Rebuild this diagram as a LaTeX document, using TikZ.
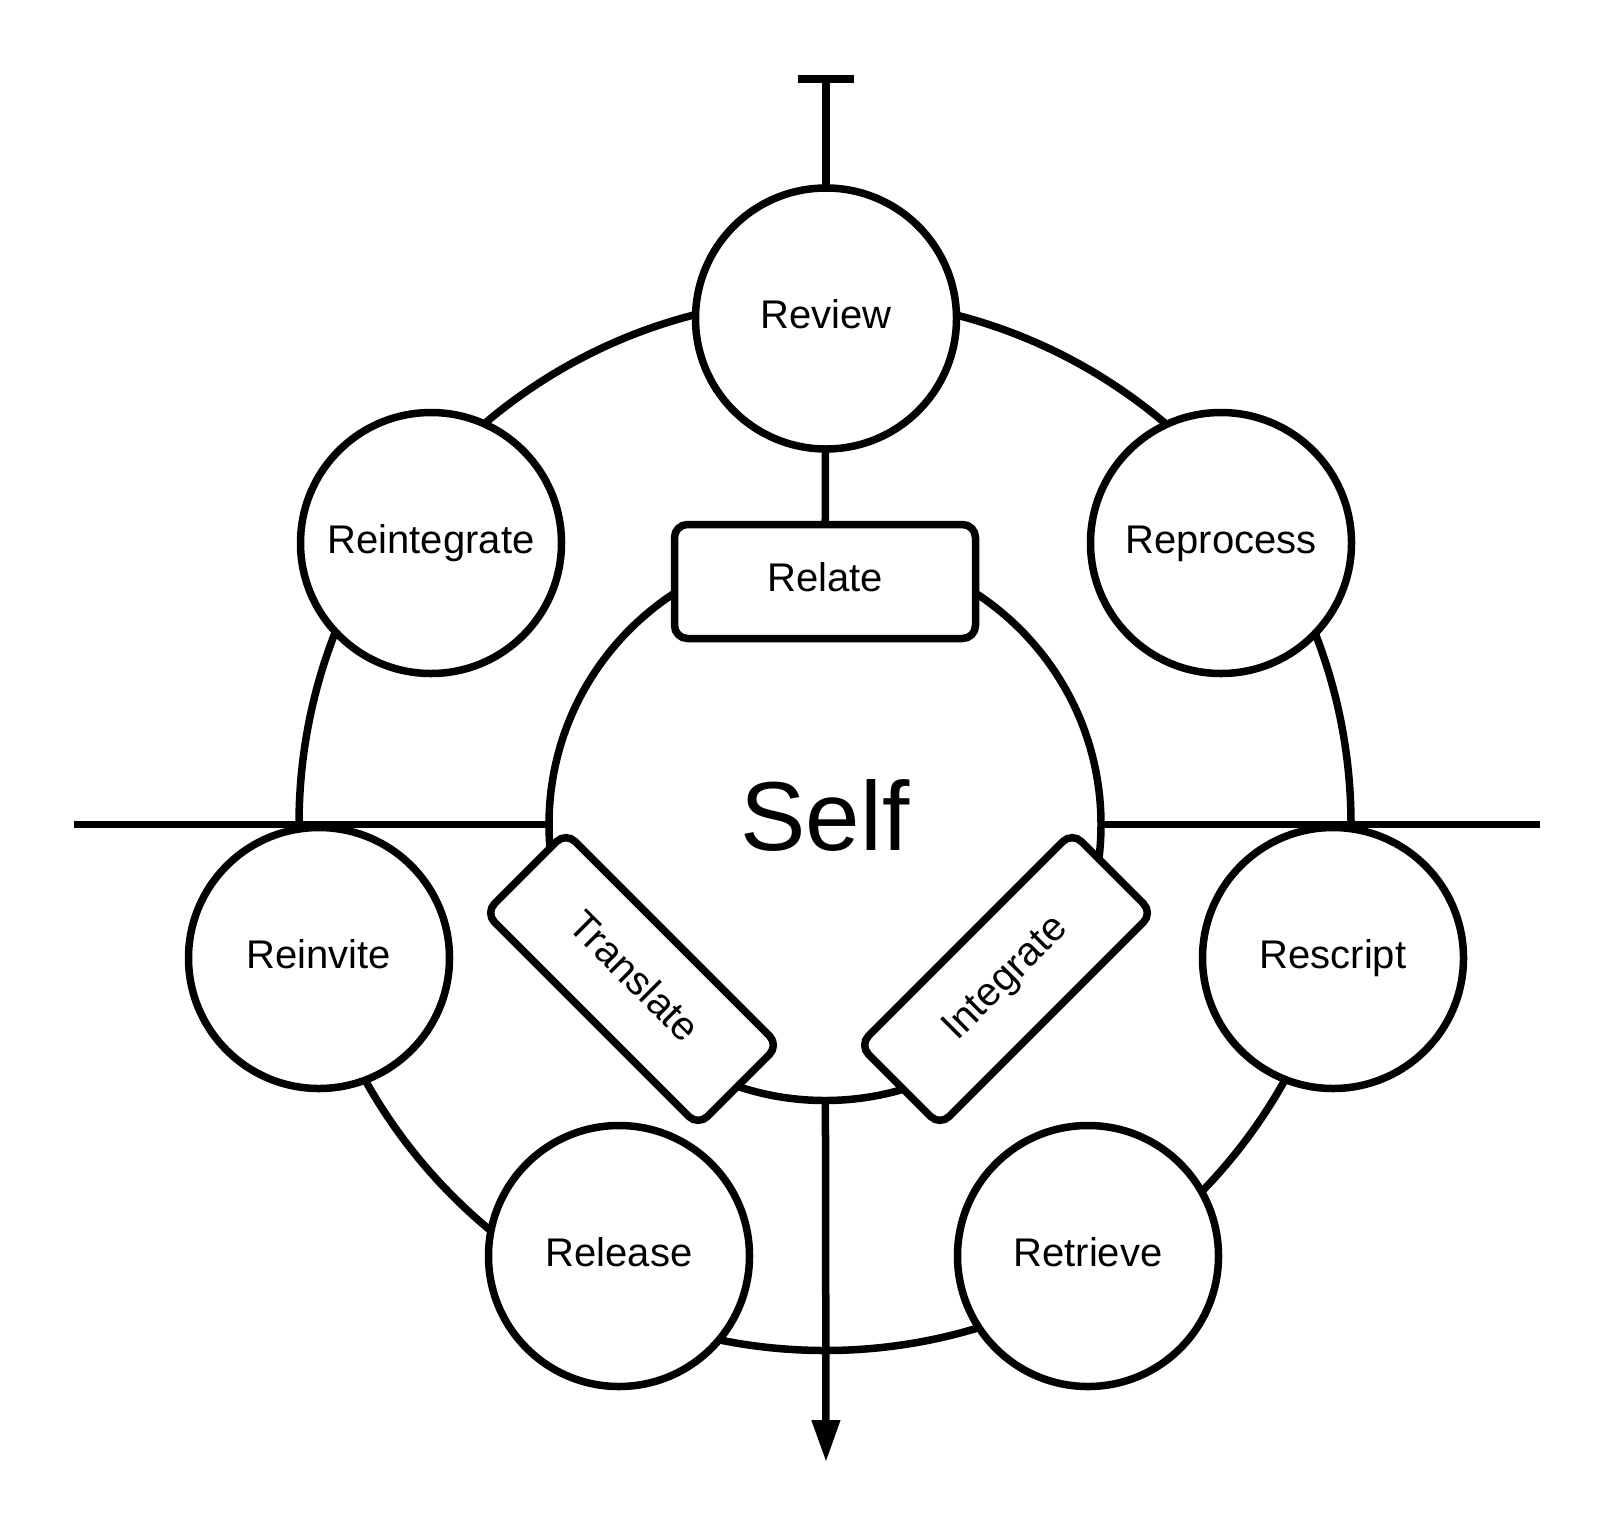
\documentclass[tikz,border=0pt]{standalone}
\usepackage{fontspec}
\setmainfont{Liberation Sans}
\usetikzlibrary{arrows.meta}
\pgfdeclarelayer{bg}
\pgfsetlayers{bg,main}
\begin{document}
\begin{tikzpicture}[x=1pt,y=-1pt,line width=7.5pt,
  conn/.style={draw, line width=7.5pt},
  lbl/.style={font=\fontsize{40}{48}\selectfont, text height=29pt, text depth=9pt, inner sep=0pt},
  stage/.style={lbl, circle, draw, fill=white, minimum size=261pt},
  boxnode/.style={lbl, rectangle, rounded corners=13pt, draw, fill=white, minimum width=301pt, minimum height=114pt},
  selfnode/.style={circle, draw, fill=white, minimum size=552pt, inner sep=0pt,
    font=\fontsize{98}{110}\selectfont, text height=70pt, text depth=19pt}]
\useasboundingbox (0,0) rectangle (1613,1526);

\node[selfnode] (self) at (825,824.5) {Self};

\node[boxnode] (relate) at (825,581.5) {Relate};
\node[boxnode, rotate=-45] (translate) at (632,979) {Translate};
\node[boxnode, rotate=45] (integrate) at (1006,979) {Integrate};

\node[stage] (review) at (826,318.5) {Review};
\node[stage] (reintegrate) at (431,543) {Reintegrate};
\node[stage] (reprocess) at (1221,543) {Reprocess};
\node[stage] (reinvite) at (319,958) {Reinvite};
\node[stage] (rescript) at (1333,958) {Rescript};
\node[stage] (release) at (619,1256) {Release};
\node[stage] (retrieve) at (1088,1256) {Retrieve};

\coordinate (ttop) at (826,75);
\coordinate (hL) at (74,824.5);
\coordinate (hR) at (1540,824.5);
\coordinate (tip) at (826,1462);

\begin{pgfonlayer}{bg}
\fill[white] (0,0) rectangle (1613,1526);
\draw[conn] (hL) -- (hR);
\draw[conn] (self.center) circle[radius=526pt];
\draw[conn, {Bar[width=56pt]}-] (ttop) -- (review.center);
\draw[conn] (review.center) -- (relate.center);
\draw[conn, -{Triangle[width=27pt,length=42pt]}] (self.center) -- (tip);
\end{pgfonlayer}
\end{tikzpicture}
\end{document}
